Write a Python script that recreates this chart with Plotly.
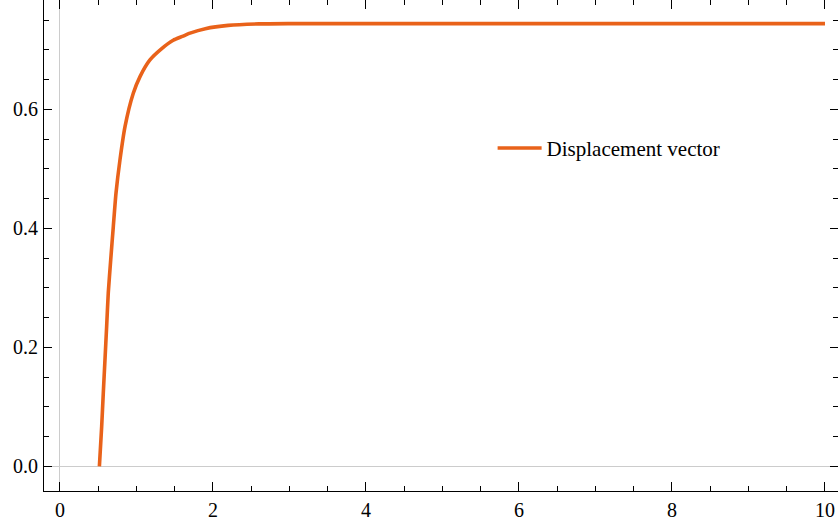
import plotly.graph_objects as go

# Data
x_vals = [0.515, 0.545, 0.566, 0.588, 0.610, 0.631, 0.663, 0.697, 0.732, 0.784, 0.850,
          0.958, 1.046, 1.176, 1.33, 1.48, 1.60, 1.70, 1.90, 2.20, 2.60, 3.0, 4.0, 5.0,
          6.0, 7.0, 8.0, 9.0, 10.0]
y_vals = [0.0, 0.067, 0.123, 0.179, 0.235, 0.291, 0.347, 0.403, 0.459, 0.515, 0.571,
          0.627, 0.655, 0.683, 0.702, 0.716, 0.7225, 0.728, 0.7355, 0.741, 0.7435, 0.744,
          0.744, 0.744, 0.744, 0.744, 0.744, 0.744, 0.744]
series_name = "Displacement vector"

x_tickvals = [0, 2, 4, 6, 8, 10]
x_ticktext = ["0", "2", "4", "6", "8", "10"]
y_tickvals = [0.0, 0.2, 0.4, 0.6]
y_ticktext = ["0.0", "0.2", "0.4", "0.6"]

FONT = "Liberation Serif, Times New Roman, serif"
ORANGE = "#E9621A"

fig = go.Figure()
fig.add_trace(go.Scatter(
    x=x_vals, y=y_vals, mode="lines", name=series_name,
    line=dict(color=ORANGE, width=3.6, shape="spline", smoothing=0.6),
))

axis_common = dict(
    showline=True, linecolor="#000000", linewidth=1, mirror="allticks",
    ticks="inside", tickcolor="#000000", tickwidth=1,
    showgrid=False, zeroline=True, zerolinecolor="#cccccc", zerolinewidth=1,
    tickfont=dict(family=FONT, size=20, color="#000000"),
)

fig.update_xaxes(
    range=[-0.209, 10.17], tickvals=x_tickvals, ticktext=x_ticktext, ticklen=9,
    minor=dict(dtick=0.5, tick0=0, ticks="inside", ticklen=5, tickcolor="#000000", tickwidth=1),
    ticklabelstandoff=1,
    **axis_common,
)
fig.update_yaxes(
    range=[-0.0415, 0.7837], tickvals=y_tickvals, ticktext=y_ticktext, ticklen=8,
    minor=dict(dtick=0.05, tick0=0, ticks="inside", ticklen=5, tickcolor="#000000", tickwidth=1),
    ticklabelstandoff=1,
    **axis_common,
)

fig.update_layout(
    width=838, height=524,
    margin=dict(l=44, r=0, t=0, b=33),
    plot_bgcolor="white", paper_bgcolor="white",
    showlegend=True,
    legend=dict(x=0.565, y=0.698, xanchor="left", yanchor="middle",
                font=dict(family=FONT, size=21, color="#000000"),
                bgcolor="rgba(0,0,0,0)", itemwidth=44),
)

fig.write_html("out.html",
               config={"displayModeBar": False},
               post_script="document.body.style.margin='0';document.body.style.overflow='hidden';")
